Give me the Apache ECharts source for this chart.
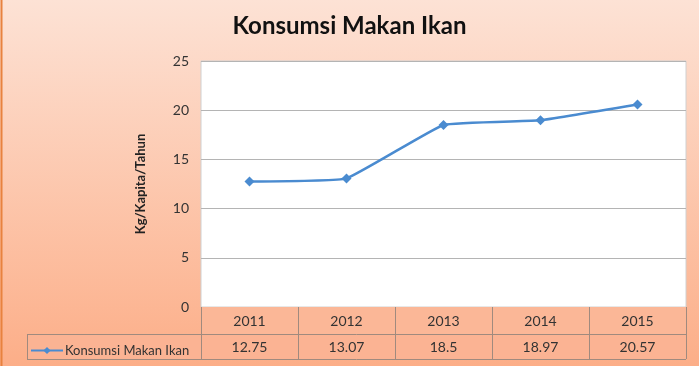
<!DOCTYPE html>
<html>
<head>
<meta charset="utf-8">
<script src="https://cdn.jsdelivr.net/npm/echarts@6/dist/echarts.min.js"></script>
<style>
  html, body { margin: 0; padding: 0; }
  #main { width: 699px; height: 366px; }
</style>
</head>
<body>
<div id="main"></div>
<script>
// data
var years = ['2011', '2012', '2013', '2014', '2015'];
var konsumsi = [12.75, 13.07, 18.5, 18.97, 20.57];
var yTicks = [0, 5, 10, 15, 20, 25];

var myChart = echarts.init(document.getElementById('main'));

// plot area in pixels
var gLeft = 201, gRight = 13, gTop = 61, gBottom = 59;
var W = 699, H = 366;
var plotR = W - gRight, plotB = H - gBottom;
var colW = (plotR - gLeft) / years.length;
var row1 = plotB + 27, row2 = row1 + 25;
var border = '#a08a7e';

// table lines
var tbl = [];
tbl.push({ type: 'rect', shape: { x: gLeft, y: plotB, width: plotR - gLeft, height: row1 - plotB },
  style: { fill: '#fbb797' }, z: 1 });
tbl.push({ type: 'rect', shape: { x: 27, y: row1, width: plotR - 27, height: row2 - row1 },
  style: { fill: '#fbb393' }, z: 1 });
for (var i = 0; i <= years.length; i++) {
  var x = Math.round(gLeft + i * colW) + 0.5;
  tbl.push({ type: 'line', shape: { x1: x, y1: plotB, x2: x, y2: row2 }, style: { stroke: border, lineWidth: 1 }, z: 2 });
}
tbl.push({ type: 'line', shape: { x1: 27.5, y1: row1, x2: 27.5, y2: row2 }, style: { stroke: border, lineWidth: 1 }, z: 2 });
tbl.push({ type: 'line', shape: { x1: 27, y1: row1 + 0.5, x2: plotR, y2: row1 + 0.5 }, style: { stroke: border, lineWidth: 1 }, z: 2 });
tbl.push({ type: 'line', shape: { x1: 27, y1: row2 + 0.5, x2: plotR, y2: row2 + 0.5 }, style: { stroke: border, lineWidth: 1 }, z: 2 });
// left orange edge
tbl.push({ type: 'line', shape: { x1: 1.5, y1: 0, x2: 1.5, y2: H }, style: { stroke: '#e8823f', lineWidth: 2 }, z: 2 });

myChart.setOption({
  backgroundColor: {
    type: 'linear', x: 0, y: 0, x2: 0, y2: 1,
    colorStops: [{ offset: 0, color: '#fde2d5' }, { offset: 1, color: '#fcae88' }]
  },
  textStyle: { fontFamily: 'Lato' },
  title: {
    text: 'Konsumsi Makan Ikan',
    left: 'center', top: 9,
    textStyle: { fontFamily: 'Lato', fontSize: 24, fontWeight: 'bold', color: '#111' }
  },
  legend: {
    data: ['Konsumsi Makan Ikan'],
    left: 25, top: 339,
    itemWidth: 32, itemHeight: 9, itemGap: 4,
    textStyle: { fontFamily: 'Lato', fontSize: 13, color: '#333', padding: [0, 0, 0, -3] }
  },
  grid: {
    left: gLeft, right: gRight, top: gTop, bottom: gBottom,
    show: true, backgroundColor: '#fff', borderColor: '#d0d0d0', borderWidth: 1
  },
  graphic: tbl,
  xAxis: [{
    type: 'category', data: years, boundaryGap: true,
    axisLine: { show: false }, axisTick: { show: false },
    axisLabel: { margin: 7, fontSize: 14, color: '#333', fontFamily: 'Lato' },
    z: 5
  }, {
    type: 'category', data: konsumsi.map(String), position: 'bottom', offset: 26,
    axisLine: { show: false }, axisTick: { show: false },
    axisLabel: { margin: 7, fontSize: 14, color: '#333', fontFamily: 'Lato' },
    z: 5
  }],
  yAxis: {
    type: 'value', min: yTicks[0], max: yTicks[yTicks.length - 1], interval: 5,
    name: 'Kg/Kapita/Tahun', nameLocation: 'middle', nameRotate: 90, nameGap: 54,
    nameTextStyle: { fontFamily: 'Lato', fontSize: 13, fontWeight: 'bold', color: '#222' },
    axisLine: { show: false }, axisTick: { show: false },
    axisLabel: { margin: 12, fontSize: 14, color: '#333', fontFamily: 'Lato' },
    splitLine: { lineStyle: { color: '#b4b4b4', width: 1 } }
  },
  series: [{
    name: 'Konsumsi Makan Ikan',
    type: 'line',
    data: konsumsi,
    smooth: 0.1,
    symbol: 'diamond', symbolSize: 10,
    lineStyle: { color: '#4a8bd0', width: 2.5 },
    itemStyle: { color: '#4a8bd0' }
  }]
});
</script>
</body>
</html>
